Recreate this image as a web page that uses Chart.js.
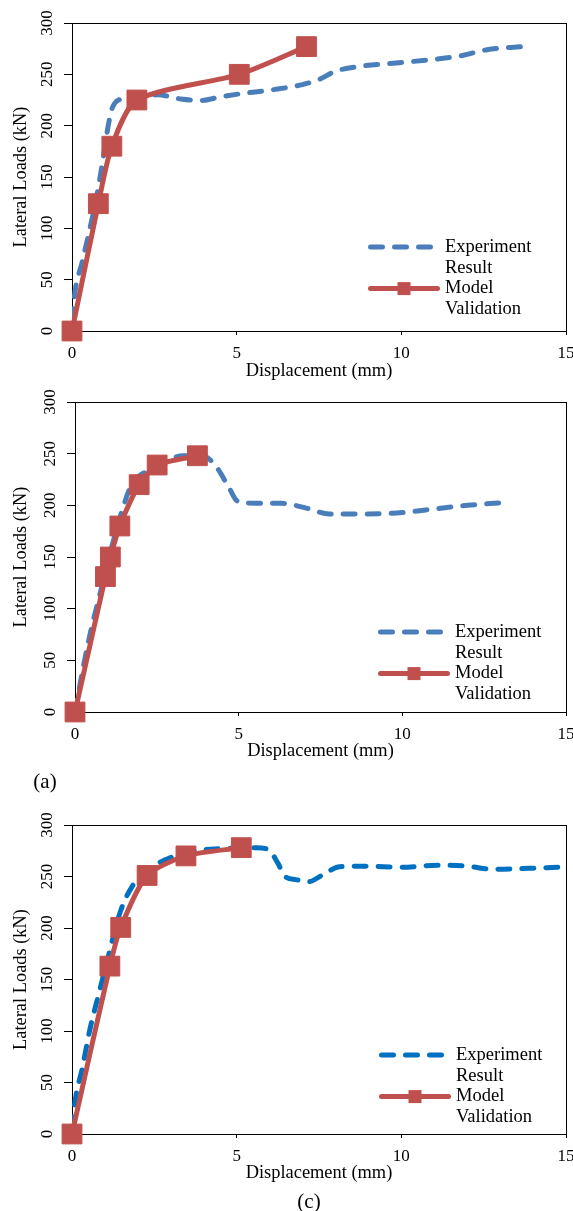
<!DOCTYPE html>
<html>
<head>
<meta charset="utf-8">
<script src="https://cdn.jsdelivr.net/npm/chart.js@4.4.1/dist/chart.umd.min.js"></script>
<style>
  body { margin: 0; background: #fff; }
  #page { position: relative; width: 573px; height: 1211px; overflow: hidden; background: #fff; }
  canvas { position: absolute; left: 0; }
  .cap { position: absolute; font-family: "Liberation Serif", "Times New Roman", serif; font-size: 21px; line-height: 1; transform: translate(-50%, -50%); color: #000; }
</style>
</head>
<body>
<div id="page">
  <canvas id="chartTop" width="573" height="392" style="top:0px"></canvas>
  <canvas id="chartMid" width="573" height="388" style="top:386px"></canvas>
  <div class="cap" style="left:45px; top:781px">(a)</div>
  <canvas id="chartBottom" width="573" height="394" style="top:800px"></canvas>
  <div class="cap" style="left:309px; top:1201px">(c)</div>
</div>
<script>
// tick labels shared by all three panels
const dispTicks = [0, 5, 10, 15];
const loadTicks = [0, 50, 100, 150, 200, 250, 300];

const expLabel = ['Experiment', 'Result'];
const modelLabel = ['Model', 'Validation'];

// top panel
const expDisp1 = [0, 0.1, 0.3, 0.58, 0.75, 0.97, 1.1, 1.2, 1.3, 1.5, 2.0, 2.6, 3.3, 3.9, 4.5, 5.1, 6.1, 7.0, 7.5, 8.0, 8.8, 10.0, 11.1, 11.8, 12.6, 13.7];
const expLoad1 = [10, 40, 66, 105, 131, 173, 200, 215, 222, 226, 229, 230, 226, 224.5, 228, 231, 235, 240, 245, 253, 258, 261.5, 265, 268, 274, 277];
const modelDisp1 = [0, 0.8, 1.21, 1.97, 5.08, 7.12];
const modelLoad1 = [0, 124, 180, 225, 250, 277];

// middle panel (a)
const expDisp2 = [0, 0.28, 0.5, 0.73, 1.06, 1.4, 1.73, 2.18, 2.74, 3.3, 3.97, 4.3, 4.69, 4.97, 5.53, 6.31, 7.1, 7.77, 8.44, 9.44, 10.0, 11.12, 12.0, 13.02];
const expLoad2 = [0, 48, 81, 110, 152, 191, 220, 233, 242, 248, 247, 238, 218, 204, 202, 202, 197, 191.5, 191.5, 192, 193, 197, 200, 202.5];
const modelDisp2 = [0, 0.93, 1.08, 1.37, 1.96, 2.51, 3.74];
const modelLoad2 = [0, 131, 150, 180, 220, 239, 248];

// bottom panel (c)
const expDisp3 = [0, 0.1, 0.32, 0.54, 0.82, 1.1, 1.2, 1.48, 1.82, 2.26, 2.81, 3.59, 4.48, 5.58, 5.97, 6.25, 6.47, 6.8, 7.19, 7.58, 8.13, 8.9, 10.0, 11.1, 12.0, 12.8, 13.9, 14.8];
const expLoad3 = [5, 33, 65, 101, 137, 172, 185, 217, 240, 255, 266, 274, 277, 278, 276, 263, 250, 247, 245, 251, 259.5, 260, 259, 261, 260, 257, 258, 259];
const modelDisp3 = [0, 1.15, 1.48, 2.28, 3.46, 5.14];
const modelLoad3 = [0, 163, 200.6, 251, 270, 278];

const serif = '"Liberation Serif", "Times New Roman", serif';
const red = '#c0504d';

const toPoints = (xs, ys) => xs.map((x, i) => ({ x: x, y: ys[i] }));

// box around the plot area (top and right sides are not drawn by the axes)
const frame = {
  id: 'frame',
  beforeDatasetsDraw(chart) {
    const { ctx, chartArea: a } = chart;
    ctx.save();
    ctx.strokeStyle = '#000';
    ctx.lineWidth = 1;
    ctx.strokeRect(Math.round(a.left) + 0.5, Math.round(a.top) + 0.5, Math.round(a.right - a.left), Math.round(a.bottom - a.top));
    ctx.restore();
  }
};

// legend drawn inside the plot area, lower right, two text lines per entry
const inlineLegend = {
  id: 'inlineLegend',
  afterDraw(chart, args, opts) {
    const { ctx, chartArea } = chart;
    const x0 = chartArea.right - opts.right;
    let y = chartArea.bottom - opts.bottom;
    ctx.save();
    ctx.font = opts.fontSize + 'px ' + serif;
    ctx.textBaseline = 'middle';
    ctx.textAlign = 'left';
    chart.data.datasets.forEach(ds => {
      const hasMarker = ds.pointRadius > 0;
      const len = hasMarker ? 72 : 66;
      ctx.strokeStyle = ds.borderColor;
      ctx.lineWidth = ds.borderWidth;
      ctx.lineCap = 'round';
      ctx.setLineDash(ds.borderDash || []);
      ctx.beginPath();
      ctx.moveTo(x0 + 2.5, y);
      ctx.lineTo(x0 + len - 2.5, y);
      ctx.stroke();
      ctx.setLineDash([]);
      if (hasMarker) {
        ctx.fillStyle = ds.pointBackgroundColor;
        ctx.fillRect(x0 + 36 - 6.5, y - 6.5, 13, 13);
      }
      ctx.fillStyle = '#000';
      ds.label.forEach((line, i) => ctx.fillText(line, x0 + 77, y + i * opts.lineGap));
      y += ds.label.length * opts.lineGap;
    });
    ctx.restore();
  }
};

function makeChart(id, cfg) {
  const ctx = document.getElementById(id).getContext('2d');
  const h = ctx.canvas.height;
  return new Chart(ctx, {
    type: 'line',
    data: {
      datasets: [
        {
          label: expLabel,
          data: toPoints(cfg.expDisp, cfg.expLoad),
          borderColor: cfg.expColor,
          borderWidth: 5,
          borderDash: [12, 12],
          borderCapStyle: 'round',
          cubicInterpolationMode: 'monotone',
          pointRadius: 0,
          fill: false,
          order: 1
        },
        {
          label: modelLabel,
          data: toPoints(cfg.modelDisp, cfg.modelLoad),
          borderColor: red,
          borderWidth: 5,
          tension: 0.25,
          pointStyle: 'rect',
          pointRadius: 14,
          pointBackgroundColor: red,
          pointBorderColor: red,
          pointBorderWidth: 1,
          fill: false,
          clip: false,
          order: 0
        }
      ]
    },
    options: {
      responsive: false,
      devicePixelRatio: 1,
      animation: false,
      events: [],
      layout: { autoPadding: false, padding: { left: 0, right: 573 - 566, top: cfg.top, bottom: 0 } },
      scales: {
        x: {
          type: 'linear',
          min: 0,
          max: 15,
          afterBuildTicks: s => { s.ticks = dispTicks.map(v => ({ value: v })); },
          afterFit: s => { s.height = h - cfg.bottom; s.paddingLeft = 0; s.paddingRight = 0; },
          grid: { display: true, drawOnChartArea: false, tickLength: 4, color: '#000' },
          border: { display: true, color: '#000', width: 1 },
          ticks: { font: { family: serif, size: 17 }, color: '#000', padding: 8, maxRotation: 0, autoSkip: false },
          title: { display: true, text: 'Displacement (mm)', color: '#000', font: { family: serif, size: 18.4 }, padding: { top: 0, bottom: cfg.xTitlePad } }
        },
        y: {
          min: 0,
          max: 300,
          afterBuildTicks: s => { s.ticks = loadTicks.map(v => ({ value: v })); },
          afterFit: s => { s.width = cfg.left; s.paddingTop = 0; s.paddingBottom = 0; },
          grid: { display: true, drawOnChartArea: false, tickLength: 8, color: '#000' },
          border: { display: true, color: '#000', width: 1 },
          ticks: { font: { family: serif, size: 17 }, color: '#000', padding: 4, minRotation: 90, maxRotation: 90, crossAlign: 'center', autoSkip: false },
          title: { display: true, text: 'Lateral Loads (kN)', color: '#000', font: { family: serif, size: 18.4 }, padding: { top: 10, bottom: 0 } }
        }
      },
      plugins: {
        legend: { display: false },
        tooltip: { enabled: false },
        inlineLegend: { right: cfg.legendRight, bottom: cfg.legendBottom, lineGap: 20.8, fontSize: 18.5 }
      }
    },
    plugins: [frame, inlineLegend]
  });
}

makeChart('chartTop', {
  expDisp: expDisp1, expLoad: expLoad1, modelDisp: modelDisp1, modelLoad: modelLoad1,
  expColor: '#4a7ebb', left: 72, top: 23, bottom: 331, xTitlePad: 10, legendRight: 198, legendBottom: 84
});
makeChart('chartMid', {
  expDisp: expDisp2, expLoad: expLoad2, modelDisp: modelDisp2, modelLoad: modelLoad2,
  expColor: '#4a7ebb', left: 75, top: 16, bottom: 326, xTitlePad: 12, legendRight: 188, legendBottom: 80
});
makeChart('chartBottom', {
  expDisp: expDisp3, expLoad: expLoad3, modelDisp: modelDisp3, modelLoad: modelLoad3,
  expColor: '#0070c0', left: 72, top: 25, bottom: 334, xTitlePad: 10, legendRight: 187, legendBottom: 79
});
</script>
</body>
</html>
